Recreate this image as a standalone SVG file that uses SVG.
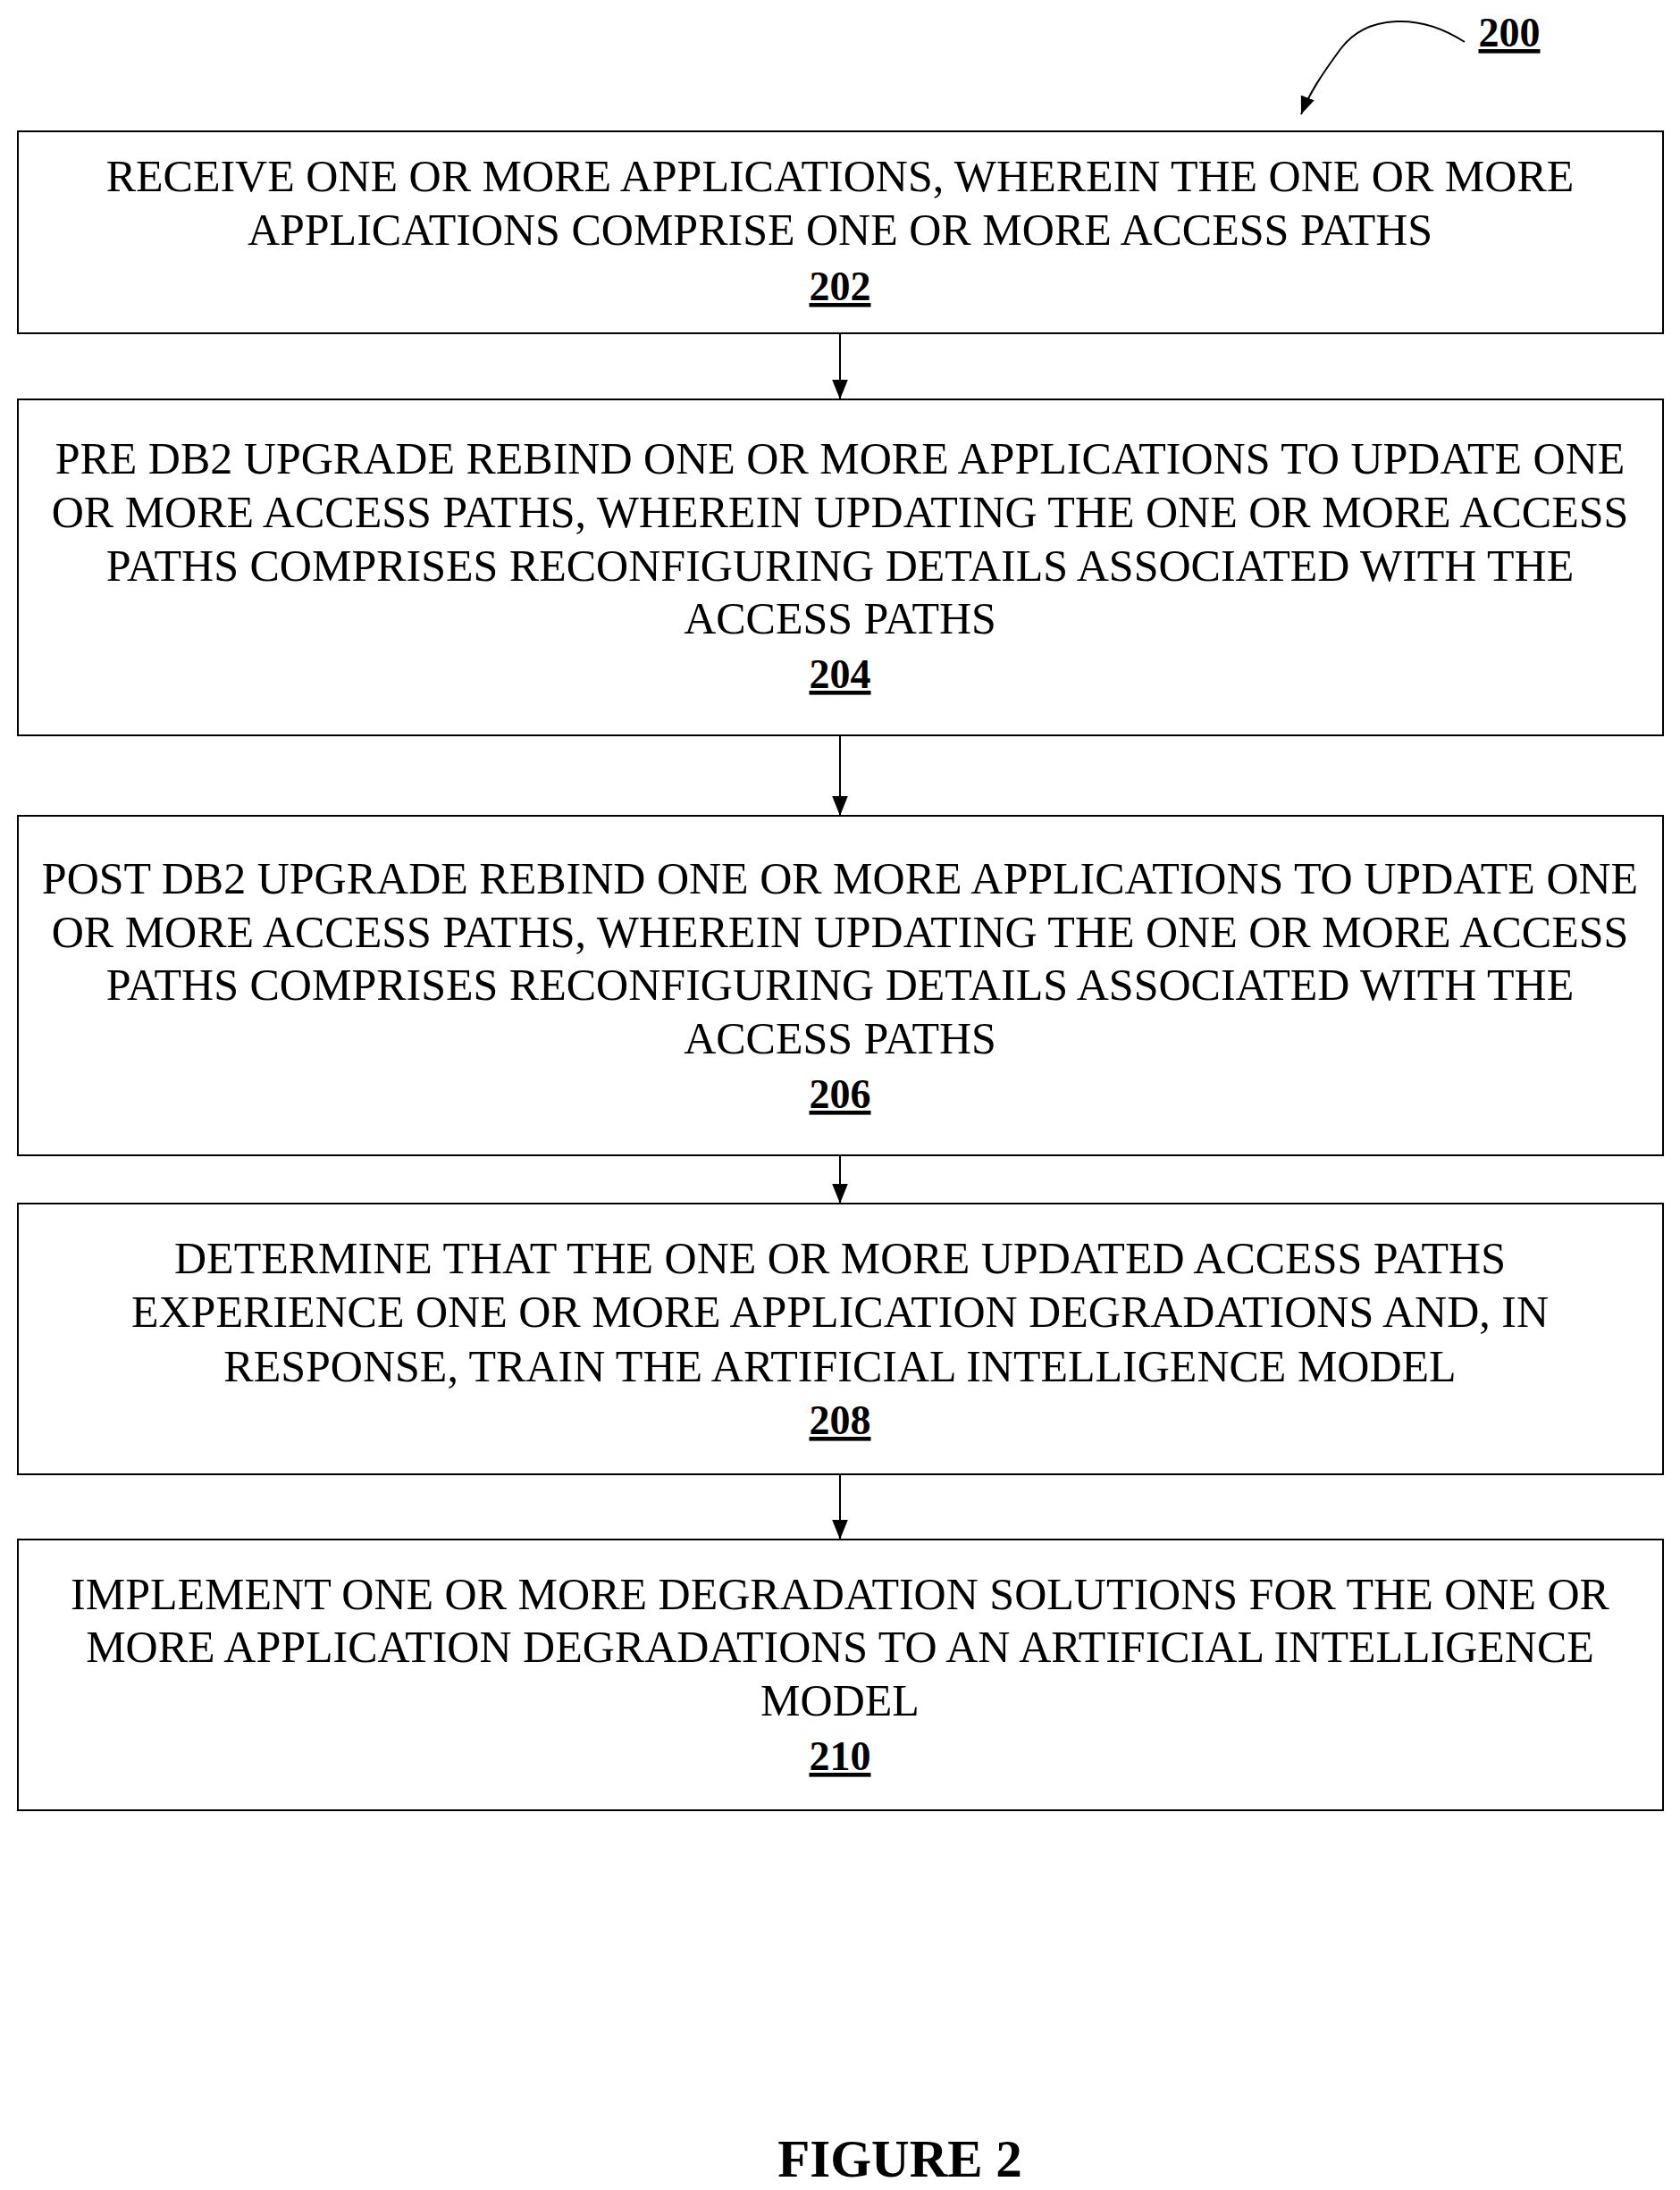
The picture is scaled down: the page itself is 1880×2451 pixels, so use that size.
<svg xmlns="http://www.w3.org/2000/svg" width="1880" height="2451" viewBox="0 0 1880 2451">
<style>
.b{fill:#fff;stroke:#000;stroke-width:2}
.t{font-family:"Liberation Serif",serif;font-size:50px;text-anchor:middle;fill:#000}
.n{font-weight:bold;text-decoration:underline;font-size:46px}
.c{stroke:#000;stroke-width:2;fill:none}
</style>
<defs><marker id="a" viewBox="0 0 10 10" refX="10" refY="5" markerWidth="20" markerHeight="20" markerUnits="userSpaceOnUse" orient="auto"><path d="M0,1L10,5L0,9z" fill="#000"/></marker>
<marker id="h" viewBox="0 0 10 10" refX="10" refY="5" markerWidth="22" markerHeight="22" markerUnits="userSpaceOnUse" orient="auto"><path d="M0,1L10,5L0,9z" fill="#000"/></marker></defs>
<rect width="1880" height="2451" fill="#fff"/>
<g id="label200"><text class="t n" x="1689" y="52">200</text></g>
<g id="connectors">
<path class="c" d="M1639,47 C1590,15 1530,15 1500,55 C1478,85 1465,105 1456,128" marker-end="url(#a)"/>
<line class="c" x1="940" y1="373" x2="940" y2="447" marker-end="url(#h)"/>
<line class="c" x1="940" y1="823" x2="940" y2="913" marker-end="url(#h)"/>
<line class="c" x1="940" y1="1293" x2="940" y2="1347" marker-end="url(#h)"/>
<line class="c" x1="940" y1="1650" x2="940" y2="1723" marker-end="url(#h)"/>
</g>
<g id="n202"><rect class="b" x="20" y="147" width="1841" height="226"/>
<text class="t" x="940" y="214">RECEIVE ONE OR MORE APPLICATIONS, WHEREIN THE ONE OR MORE</text>
<text class="t" x="940" y="274">APPLICATIONS COMPRISE ONE OR MORE ACCESS PATHS</text>
<text class="t n" x="940" y="336">202</text></g>
<g id="n204"><rect class="b" x="20" y="447" width="1841" height="376"/>
<text class="t" x="940" y="530">PRE DB2 UPGRADE REBIND ONE OR MORE APPLICATIONS TO UPDATE ONE</text>
<text class="t" x="940" y="590">OR MORE ACCESS PATHS, WHEREIN UPDATING THE ONE OR MORE ACCESS</text>
<text class="t" x="940" y="650">PATHS COMPRISES RECONFIGURING DETAILS ASSOCIATED WITH THE</text>
<text class="t" x="940" y="709">ACCESS PATHS</text>
<text class="t n" x="940" y="770">204</text></g>
<g id="n206"><rect class="b" x="20" y="913" width="1841" height="380"/>
<text class="t" x="940" y="1000">POST DB2 UPGRADE REBIND ONE OR MORE APPLICATIONS TO UPDATE ONE</text>
<text class="t" x="940" y="1060">OR MORE ACCESS PATHS, WHEREIN UPDATING THE ONE OR MORE ACCESS</text>
<text class="t" x="940" y="1119">PATHS COMPRISES RECONFIGURING DETAILS ASSOCIATED WITH THE</text>
<text class="t" x="940" y="1179">ACCESS PATHS</text>
<text class="t n" x="940" y="1240">206</text></g>
<g id="n208"><rect class="b" x="20" y="1347" width="1841" height="303"/>
<text class="t" x="940" y="1425">DETERMINE THAT THE ONE OR MORE UPDATED ACCESS PATHS</text>
<text class="t" x="940" y="1485">EXPERIENCE ONE OR MORE APPLICATION DEGRADATIONS AND, IN</text>
<text class="t" x="940" y="1546">RESPONSE, TRAIN THE ARTIFICIAL INTELLIGENCE MODEL</text>
<text class="t n" x="940" y="1605">208</text></g>
<g id="n210"><rect class="b" x="20" y="1723" width="1841" height="303"/>
<text class="t" x="940" y="1801">IMPLEMENT ONE OR MORE DEGRADATION SOLUTIONS FOR THE ONE OR</text>
<text class="t" x="940" y="1860">MORE APPLICATION DEGRADATIONS TO AN ARTIFICIAL INTELLIGENCE</text>
<text class="t" x="940" y="1920">MODEL</text>
<text class="t n" x="940" y="1981">210</text></g>
<g id="caption"><text class="t" x="1007" y="2436" style="font-weight:bold;font-size:59px">FIGURE 2</text></g>
</svg>
